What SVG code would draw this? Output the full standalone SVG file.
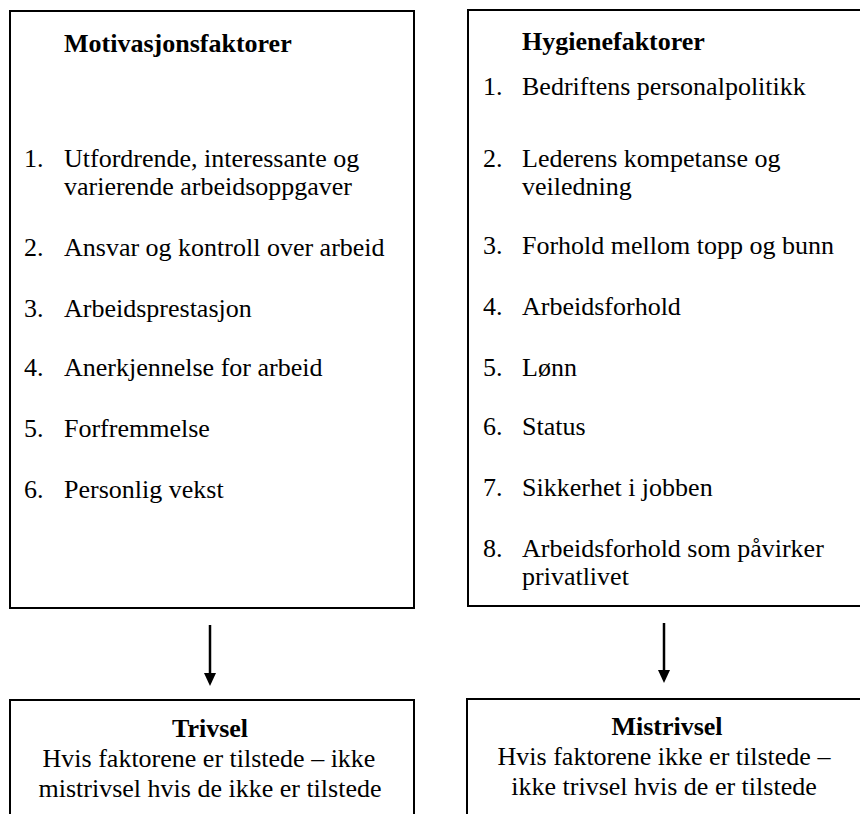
<svg xmlns="http://www.w3.org/2000/svg" width="860" height="814" viewBox="0 0 860 814">
  <defs>
    <style>
      .box { fill: #ffffff; stroke: #000000; stroke-width: 2; }
      text { font-family: "Liberation Serif", "Times New Roman", serif; font-size: 26px; fill: #000000; }
      .bold { font-weight: bold; }
      .mid { text-anchor: middle; }
      .conn { stroke: #000000; stroke-width: 2.5; fill: none; }
    </style>
    <marker id="arrowhead" markerWidth="12" markerHeight="14" refX="6" refY="13" orient="auto" markerUnits="userSpaceOnUse" viewBox="0 0 12 14">
      <path d="M0,0 L12,0 L6,13 Z" fill="#000000" transform="rotate(-90 6 7) translate(0 0)"/>
    </marker>
  </defs>

  <rect x="0" y="0" width="860" height="814" fill="#ffffff"/>

  <!-- Motivation factors -->
  <g id="motivasjon">
    <rect class="box" x="10" y="11" width="404" height="597"/>
    <text class="bold" x="64" y="52">Motivasjonsfaktorer</text>
    <text x="24" y="167">1.</text>
    <text x="64" y="167">Utfordrende, interessante og</text>
    <text x="64" y="195">varierende arbeidsoppgaver</text>
    <text x="24" y="256">2.</text>
    <text x="64" y="256">Ansvar og kontroll over arbeid</text>
    <text x="24" y="317">3.</text>
    <text x="64" y="317">Arbeidsprestasjon</text>
    <text x="24" y="376">4.</text>
    <text x="64" y="376">Anerkjennelse for arbeid</text>
    <text x="24" y="437">5.</text>
    <text x="64" y="437">Forfremmelse</text>
    <text x="24" y="498">6.</text>
    <text x="64" y="498">Personlig vekst</text>
  </g>

  <!-- Hygiene factors -->
  <g id="hygiene">
    <rect class="box" x="468" y="10" width="400" height="596"/>
    <text class="bold" x="522" y="50">Hygienefaktorer</text>
    <text x="483" y="95">1.</text>
    <text x="522" y="95">Bedriftens personalpolitikk</text>
    <text x="483" y="167">2.</text>
    <text x="522" y="167">Lederens kompetanse og</text>
    <text x="522" y="195">veiledning</text>
    <text x="483" y="254">3.</text>
    <text x="522" y="254">Forhold mellom topp og bunn</text>
    <text x="483" y="315">4.</text>
    <text x="522" y="315">Arbeidsforhold</text>
    <text x="483" y="376">5.</text>
    <text x="522" y="376">Lønn</text>
    <text x="483" y="435">6.</text>
    <text x="522" y="435">Status</text>
    <text x="483" y="496">7.</text>
    <text x="522" y="496">Sikkerhet i jobben</text>
    <text x="483" y="557">8.</text>
    <text x="522" y="557">Arbeidsforhold som påvirker</text>
    <text x="522" y="585">privatlivet</text>
  </g>

  <!-- Well-being outcome -->
  <g id="trivsel">
    <rect class="box" x="10" y="700" width="404" height="130"/>
    <text class="bold mid" x="210" y="737">Trivsel</text>
    <text class="mid" x="209" y="767">Hvis faktorene er tilstede – ikke</text>
    <text class="mid" x="210" y="797">mistrivsel hvis de ikke er tilstede</text>
  </g>

  <!-- Dissatisfaction outcome -->
  <g id="mistrivsel">
    <rect class="box" x="467" y="699" width="400" height="130"/>
    <text class="bold mid" x="667" y="735">Mistrivsel</text>
    <text class="mid" x="664" y="765">Hvis faktorene ikke er tilstede –</text>
    <text class="mid" x="664" y="795">ikke trivsel hvis de er tilstede</text>
  </g>

  <!-- Connectors -->
  <g id="connectors">
    <line class="conn" x1="210" y1="625" x2="210" y2="675"/>
    <path d="M204,673 L216,673 L210,686 Z" fill="#000000"/>
    <line class="conn" x1="664" y1="623" x2="664" y2="672"/>
    <path d="M658,670 L670,670 L664,683 Z" fill="#000000"/>
  </g>
</svg>
